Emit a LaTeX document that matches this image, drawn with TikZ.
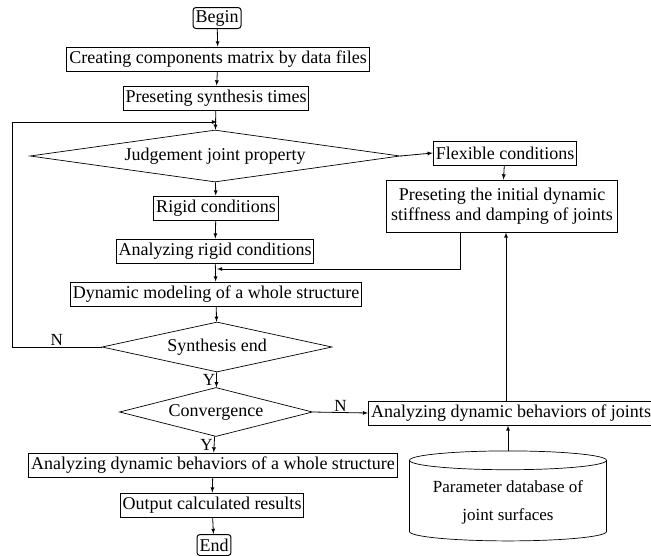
\documentclass[tikz,border=0pt]{standalone}
\usepackage{fontspec}
\setmainfont{Liberation Serif}
\usetikzlibrary{shapes.geometric}
\tikzset{
  box/.style={draw, line width=1pt, inner xsep=2.5pt, inner ysep=1pt, minimum height=24pt,
    font=\fontsize{18}{20}\selectfont},
  term/.style={box, rounded corners=3pt, minimum height=21pt},
  decide/.style={draw, diamond, inner sep=0pt, line width=0.7pt, font=\fontsize{18}{20}\selectfont},
  flow/.style={-latex, line width=0.8pt},
  yn/.style={font=\fontsize{17}{19}\selectfont, inner sep=1pt}
}
\begin{document}
\begin{tikzpicture}[x=1pt,y=-1pt]
\useasboundingbox (0,0) rectangle (651,555);
% main column
\node[term] (begin) at (217,18) {Begin};
\node[box] (create) at (218,59) {Creating components matrix by data files};
\node[box] (preset) at (216,98) {Preseting synthesis times};
\node[decide, aspect=7.1, minimum width=370pt, minimum height=52pt] (judge) at (215,156) {Judgement joint property};
\node[box] (rigid) at (216,208) {Rigid conditions};
\node[box] (anarigid) at (215,251) {Analyzing rigid conditions};
\node[box] (dynmod) at (216,294) {Dynamic modeling of a whole structure};
\node[decide, aspect=4.6, minimum width=230pt, minimum height=50pt] (synend) at (217,347) {Synthesis end};
\node[decide, aspect=3.9, minimum width=193pt, minimum height=49pt] (conv) at (216,412) {Convergence};
\node[box] (anawhole) at (213,465) {Analyzing dynamic behaviors of a whole structure};
\node[box] (output) at (212,505) {Output calculated results};
\node[term] (end) at (214,545) {End};
% right column
\node[box] (flex) at (505,153) {Flexible conditions};
\node[box, align=center, minimum width=231pt, minimum height=52pt] (presetinit) at (502,206)
  {Preseting the initial dynamic\\stiffness and damping of joints};
\node[box] (anajoint) at (511,413) {Analyzing dynamic behaviors of joints};
\node[draw, cylinder, shape border rotate=90, aspect=0.12, line width=0.7pt, align=center,
  minimum width=197pt, minimum height=90pt, font=\fontsize{17}{28}\selectfont] (db) at (508,502)
  {Parameter database of\\joint surfaces};
\coordinate (loop) at (217,122);
\coordinate (join) at (217,269);
% connectors
\draw[flow] (begin) -- (create);
\draw[flow] (create) -- (preset);
\draw[flow] (preset) -- (judge);
\draw[flow] (judge) -- (rigid);
\draw[flow] (judge.east) -- (flex.west);
\draw[flow] (flex) -- (presetinit);
\draw[flow] (rigid) -- (anarigid);
\draw[flow] (anarigid) -- (dynmod);
\draw[flow] (presetinit.south -| 460,0) |- (join);
\draw[flow] (dynmod) -- (synend);
\draw[flow] (synend.west) -- (12,347)node[pos=0.5,above,yn]{N} |- (loop);
\draw[flow] (synend) -- (conv)node[midway,left,yn]{Y};
\draw[flow] (conv) -- (anawhole)node[midway,left,yn]{Y};
\draw[flow] (conv.east) -- (anajoint.west)node[midway,above,yn]{N};
\draw[flow] (db.north) -- (anajoint.south -| db.north);
\draw[flow] (anajoint.north -| 506,0) -- (presetinit.south -| 506,0);
\draw[flow] (anawhole) -- (output);
\draw[flow] (output) -- (end);
\end{tikzpicture}
\end{document}
